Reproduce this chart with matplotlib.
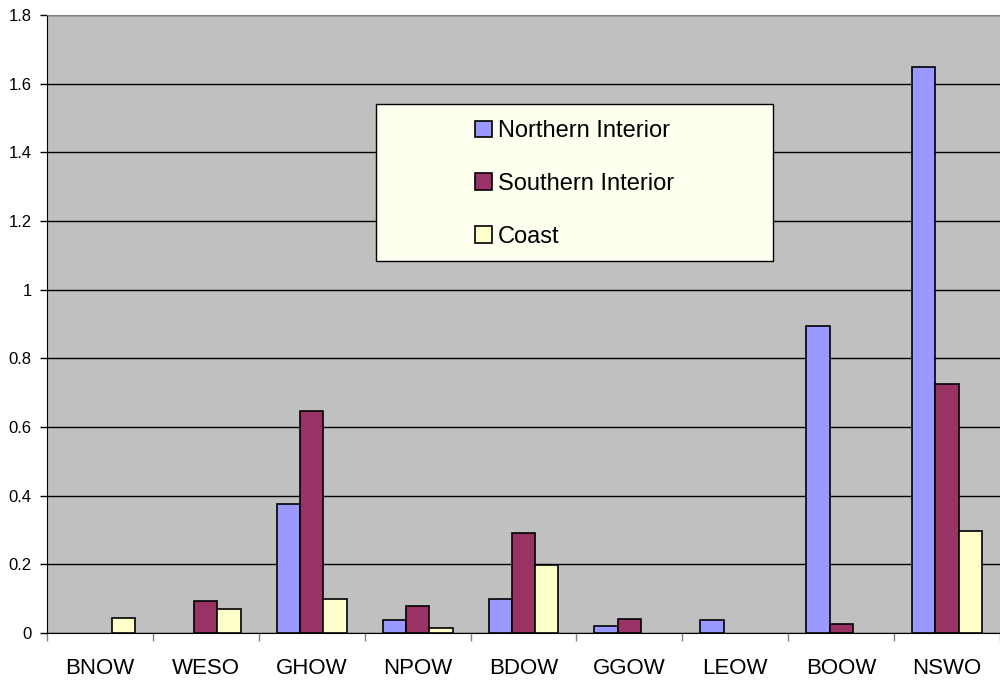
import numpy as np
import matplotlib
matplotlib.use("Agg")
import matplotlib.pyplot as plt
from matplotlib.patches import Rectangle

# datos
categorias = ["BNOW", "WESO", "GHOW", "NPOW", "BDOW", "GGOW", "LEOW", "BOOW", "NSWO"]
series = ["Northern Interior", "Southern Interior", "Coast"]
northern = [np.nan, np.nan, 0.376, 0.039, 0.099, 0.020, 0.039, 0.894, 1.648]
southern = [np.nan, 0.093, 0.646, 0.080, 0.290, 0.040, np.nan, 0.025, 0.726]
coast = [0.043, 0.071, 0.100, 0.015, 0.198, np.nan, np.nan, np.nan, 0.298]
y_ticks = [0, 0.2, 0.4, 0.6, 0.8, 1, 1.2, 1.4, 1.6, 1.8]
y_labels = ["0", "0.2", "0.4", "0.6", "0.8", "1", "1.2", "1.4", "1.6", "1.8"]

colores = ["#9999FF", "#993366", "#FFFFCC"]

plt.rcParams["font.family"] = ["Liberation Sans", "DejaVu Sans"]

fig = plt.figure(figsize=(10, 6.81), dpi=100)
ax = fig.add_axes([0.047, 0.0705, 0.953, 0.9075])
ax.set_facecolor("#C0C0C0")

x = np.arange(len(categorias))
ancho = 0.22
for i, (nombre, valores) in enumerate(zip(series, [northern, southern, coast])):
    ax.bar(x + (i - 1) * ancho, valores, width=ancho, color=colores[i],
           edgecolor="black", linewidth=1.2, label=nombre, zorder=3)

ax.set_xlim(-0.5, len(categorias) - 0.5)
ax.set_ylim(0, 1.8)
ax.set_yticks(y_ticks)
ax.set_yticklabels(y_labels, fontsize=12)
ax.yaxis.grid(True, color="black", linewidth=1, zorder=0)
ax.set_axisbelow(True)

ax.set_xticks(x)
ax.set_xticklabels(categorias, fontsize=16)
ax.set_xticks(np.arange(len(categorias) + 1) - 0.5, minor=True)
ax.tick_params(axis="x", which="major", length=0, pad=18)
ax.tick_params(axis="x", which="minor", length=6, color="#808080", width=1)
ax.tick_params(axis="y", length=5, width=1, pad=6)

ax.spines["top"].set_color("#808080")
ax.spines["right"].set_visible(False)
ax.spines["left"].set_color("black")
ax.spines["bottom"].set_color("black")

# caja de leyenda
caja = Rectangle((0.376, 0.617), 0.397, 0.230, transform=fig.transFigure,
                 facecolor="#FFFFF0", edgecolor="black", linewidth=1, zorder=5)
fig.patches.append(caja)
leg = fig.legend(loc="center", bbox_to_anchor=(0.376 + 0.397 / 2, 0.617 + 0.113),
                 frameon=False, fontsize=17, handlelength=0.72, handleheight=0.72,
                 handletextpad=0.25, labelspacing=1.3)
leg.set_zorder(6)

fig.savefig("out.png", dpi=100)
